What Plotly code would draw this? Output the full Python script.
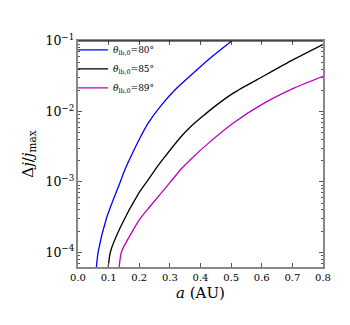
import plotly.graph_objects as go

# values (a in AU, dj/jmax)
a_80 = [0.060, 0.066, 0.093, 0.138, 0.155, 0.170, 0.202, 0.229, 0.273, 0.322, 0.382, 0.431, 0.502]
dj_80 = [6.17e-5, 1.02e-4, 3.05e-4, 1.0e-3, 1.56e-3, 2.17e-3, 4.17e-3, 6.81e-3,
         1.24e-2, 2.13e-2, 3.68e-2, 5.69e-2, 0.1]

a_85 = [0.0987, 0.106, 0.140, 0.197, 0.229, 0.255, 0.280, 0.332, 0.366, 0.404, 0.449, 0.507, 0.605, 0.703, 0.801]
dj_85 = [6.17e-5, 1.02e-4, 2.34e-4, 6.76e-4, 1.07e-3, 1.56e-3, 2.17e-3, 4.17e-3,
         5.96e-3, 8.32e-3, 1.20e-2, 1.82e-2, 3.16e-2, 5.43e-2, 8.97e-2]

a_89 = [0.1346, 0.142, 0.178, 0.204, 0.235, 0.302, 0.339, 0.372, 0.426, 0.505, 0.605, 0.705, 0.801]
dj_89 = [6.17e-5, 1.02e-4, 2.0e-4, 3.05e-4, 4.47e-4, 1.0e-3, 1.56e-3, 2.17e-3,
         3.55e-3, 6.76e-3, 1.29e-2, 2.14e-2, 3.16e-2]

names = ["80", "85", "89"]
colors = ["#0000ff", "#000000", "#bf00bf"]

serif = "DejaVu Serif"

fig = go.Figure()
for a, dj, n, c in zip([a_80, a_85, a_89], [dj_80, dj_85, dj_89], names, colors):
    fig.add_trace(go.Scatter(
        x=a, y=dj, mode="lines",
        line=dict(color=c, width=1.3, shape="spline", smoothing=0.7),
        name="<i>θ</i><sub>lb,0</sub>=" + n + "°"))

fig.update_layout(
    width=350, height=325,
    margin=dict(l=70, r=35, t=33, b=66),
    plot_bgcolor="white", paper_bgcolor="white",
    font=dict(family=serif, size=10, color="black"),
    showlegend=True,
    legend=dict(x=-0.02, y=1.025, xanchor="left", yanchor="top",
                bgcolor="rgba(0,0,0,0)", font=dict(size=9), tracegroupgap=0,
                itemwidth=30),
)
fig.update_xaxes(
    range=[0, 0.8], dtick=0.1, tickformat=".1f", showgrid=False, zeroline=False,
    ticks="inside", ticklen=4, tickcolor="#555", mirror="ticks",
    showline=True, linecolor="#888", linewidth=1.5,
    title=dict(text="<i>a</i> (AU)", font=dict(size=15), standoff=6),
    tickfont=dict(size=10),
)
fig.update_yaxes(
    type="log", range=[-4.208, -1], dtick=1, exponentformat="power",
    showgrid=False, zeroline=False,
    ticks="inside", ticklen=4, tickcolor="#555", mirror="ticks",
    showline=True, linecolor="#888", linewidth=1.5,
    minor=dict(ticks="inside", ticklen=2, tickcolor="#555", dtick="D1"),
    title=dict(text="Δ<i>j</i>/<i>j</i><sub>max</sub>", font=dict(size=15), standoff=8),
    tickfont=dict(size=10),
)
fig.add_shape(type="line", xref="paper", yref="paper", x0=0, x1=1, y0=1, y1=1,
              line=dict(color="black", width=1))

fig.write_html("out.html")
